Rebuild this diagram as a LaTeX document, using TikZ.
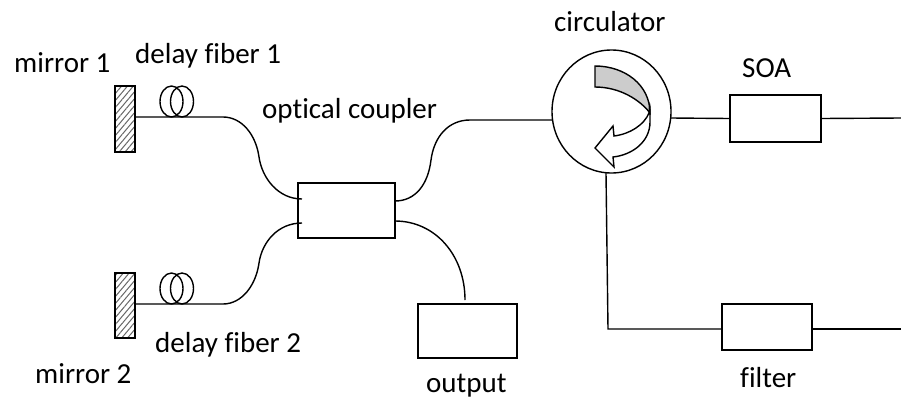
\documentclass[tikz,border=0pt]{standalone}
\usepackage{fontspec}
\setmainfont[Ligatures=NoCommon]{Carlito}
\usetikzlibrary{patterns.meta,shapes.geometric}
\tikzset{
  line/.style={draw=black,line width=1.4pt},
  boxn/.style={draw=black,line width=1.4pt,fill=white,inner sep=0},
  lab/.style={font=\fontsize{29pt}{32pt}\selectfont,inner sep=0,anchor=base west},
  mirror/.style={draw=black,line width=1.4pt,pattern={Lines[angle=50,distance=4.5pt,line width=1pt]},pattern color=black!60},
}
\begin{document}
\begin{tikzpicture}[x=1pt,y=-1pt]
\useasboundingbox (0,0) rectangle (901,399);
% mirrors
\node[mirror,minimum width=20pt,minimum height=66pt,inner sep=0] (m1) at (125,119) {};
\node[mirror,minimum width=20pt,minimum height=65pt,inner sep=0] (m2) at (125,305.5) {};
% coupler and other boxes
\node[boxn,minimum width=97pt,minimum height=55pt] (cpl) at (346.5,210.5) {};
\node[boxn,minimum width=99pt,minimum height=54pt] (out) at (467.5,331) {};
\node[boxn,minimum width=91pt,minimum height=47pt] (soa) at (775.5,118.5) {};
\node[boxn,minimum width=90pt,minimum height=46pt] (flt) at (767,327) {};
\node[ellipse,draw=black,line width=1.4pt,minimum width=119pt,minimum height=123pt,inner sep=0] (circ) at (611.5,111.5) {};
% coils
\draw[line] (171.5,101.5) ellipse (11.5 and 15.5);
\draw[line] (182,101.5) ellipse (11.5 and 15.5);
\draw[line] (171.5,288.5) ellipse (11.5 and 15.5);
\draw[line] (182,288.5) ellipse (11.5 and 15.5);
% fibres
\coordinate (e1) at (135,117);
\coordinate (e2) at (135,304);
\draw[line] (e1) -- (223,117) .. controls (242,117) and (256,135) .. (259,157)
  .. controls (262,178) and (278,199) .. (302,199);
\draw[line] (e2) -- (223,304) .. controls (242,304) and (256,285) .. (259,263)
  .. controls (262,242) and (278,223) .. (302,223);
\coordinate (c1) at (395,201);
\coordinate (c2) at (395,221);
\draw[line] (c1) .. controls (415,201) and (428,185) .. (431,160)
  .. controls (434,137) and (448,120) .. (470,120) -- (552,120);
\coordinate (ot) at (465,300);
\draw[line] (c2) .. controls (435,221) and (465,255) .. (ot);
\draw[line] (671,118) -- (soa.west);
\coordinate (r1) at (901,118);
\draw[line] (soa.east) -- (r1);
\coordinate (cb) at (606,173);
\coordinate (r2) at (901,329);
\draw[line] (cb) -- (608,329) -- (flt.west |- r2);
\draw[line] (flt.east |- r2) -- (r2);
% circulator arrow
\draw[line,fill=black!20] (595,66) .. controls (625,66) and (650,85) .. (650,113)
  .. controls (640,100) and (620,87) .. (595,87) -- cycle;
\draw[line,fill=white,line join=miter] (649,113) .. controls (650,100) and (650,105) .. (650,122)
  .. controls (650,142) and (632,155) .. (613,157) -- (614,167) -- (595,148) -- (613,126) -- (614,136)
  .. controls (630,134) and (644,125) .. (649,113) -- cycle;
% labels
\node[lab] (t1) at (14,72) {mirror 1};
\node[lab] (t2) at (135,63) {delay fiber 1};
\node[lab] (t3) at (262,118) {optical coupler};
\node[lab] (t4) at (155,352) {delay fiber 2};
\node[lab] (t5) at (35,383) {mirror 2};
\node[lab] (t6) at (554,31) {circulator};
\node[lab] (t7) at (742,77) {SOA};
\node[lab] (t8) at (426,392.5) {output};
\node[lab] (t9) at (740,387) {filter};
\end{tikzpicture}
\end{document}
